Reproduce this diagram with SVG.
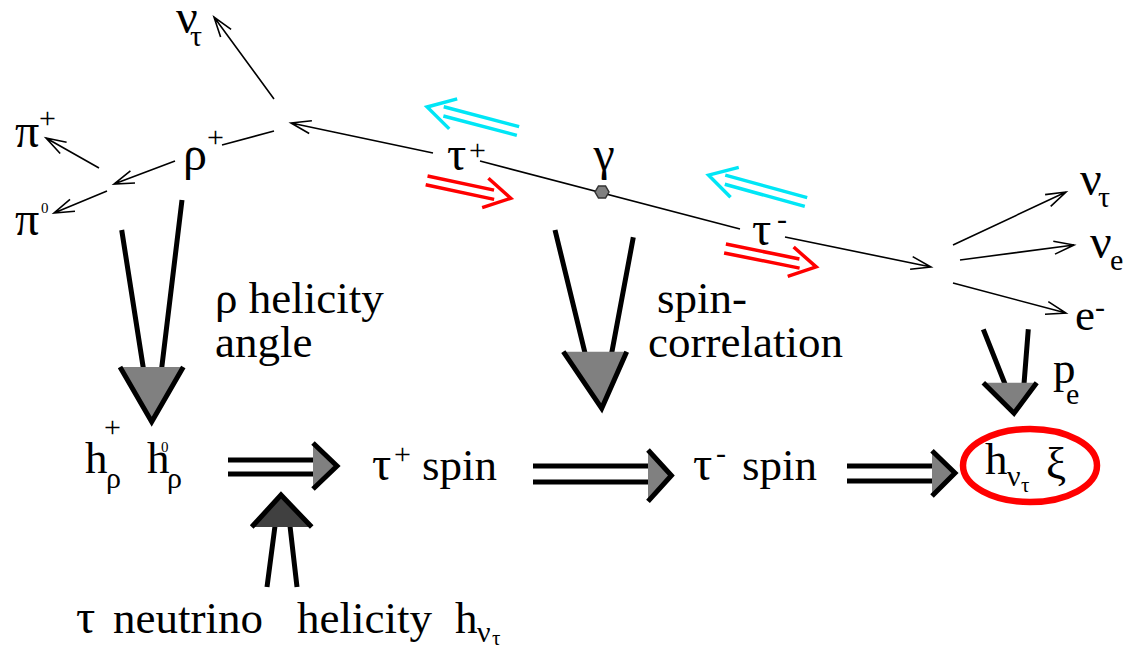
<svg xmlns="http://www.w3.org/2000/svg" width="1130" height="647" viewBox="0 0 1130 647">
<rect width="1130" height="647" fill="#fff"/>

<g id="connectors">
  <g id="thin-lines" stroke="#000" stroke-width="1.6" fill="none">
    <path d="M433,153 L291,123 M311.9,120.8 L291,123 L309.2,133.5"/>
    <path d="M480,161 L740,229"/>
    <path d="M785,237 L931,267 M910.1,269.3 L931,267 L912.7,256.6"/>
    <path d="M274,99 L214,17 M231.1,29.3 L214,17 L220.6,37"/>
    <path d="M274,131 L222,145"/>
    <path d="M175,161 L114,184 M130.4,170.9 L114,184 L135,183"/>
    <path d="M99,168 L46,138 M66.6,142.2 L46,138 L60.2,153.5"/>
    <path d="M107,191 L54,213 M70,199.3 L54,213 L75,211.3"/>
    <path d="M953,245 L1066,192 M1050.7,206.4 L1066,192 L1045.1,194.6"/>
    <path d="M960,260 L1074,245 M1055,254.1 L1074,245 L1053.3,241.2"/>
    <path d="M953,283 L1066,313 M1045,314.2 L1066,313 L1048.3,301.6"/>
  </g>
  <g id="spin-arrows" fill="none" stroke-width="3.5">
    <path stroke="#00e6f6" transform="translate(518,131) rotate(194.8)" d="M0,-4.5H76M0,4.5H78M67,-15.5L94,0L67,15.5"/>
    <path stroke="#ff0000" transform="translate(426.6,180.4) rotate(12)" d="M0,-4.5H68M0,4.5H70M60,-15L86,0L60,15"/>
    <path stroke="#00e6f6" transform="translate(806,202) rotate(195.4)" d="M0,-4.5H83M0,4.5H85M74,-15.5L101,0L74,15.5"/>
    <path stroke="#ff0000" transform="translate(725,248.5) rotate(11.4)" d="M0,-4.5H75M0,4.5H77M67,-15L93,0L67,15"/>
  </g>
  <g id="arrow-rho-helicity">
    <path stroke="#000" stroke-width="5" fill="none" d="M121.7,230 L143.3,368 M182,200 L161.7,368"/>
    <polygon fill="#808080" points="120,367 183.3,367 151.7,421.7"/>
    <path stroke="#000" stroke-width="5" fill="none" d="M120,367 L151.7,421.7 L183.3,367"/>
  </g>
  <g id="arrow-spin-correlation">
    <path stroke="#000" stroke-width="5" fill="none" d="M555,230 L585,353 M633.3,237.3 L611.7,353"/>
    <polygon fill="#808080" points="563.3,351.7 626.7,351.7 601.7,408.3"/>
    <path stroke="#000" stroke-width="5" fill="none" d="M563.3,351.7 L601.7,408.3 L626.7,351.7"/>
  </g>
  <g id="arrow-pe">
    <path stroke="#000" stroke-width="5" fill="none" d="M983.3,329.3 L1005,384 M1028.3,329.3 L1024,384"/>
    <polygon fill="#808080" points="983.3,382.7 1036.7,382.7 1014,413.3"/>
    <path stroke="#000" stroke-width="5" fill="none" d="M983.3,382.7 L1014,413.3 L1036.7,382.7"/>
  </g>
  <g id="arrow-neutrino-helicity">
    <path stroke="#000" stroke-width="5" fill="none" d="M267,587 L275,526 M297,587 L290,526"/>
    <polygon fill="#404040" points="251.7,527 311.7,527 281,495"/>
    <path stroke="#000" stroke-width="5" fill="none" d="M251.7,527 L281,495 L311.7,527"/>
  </g>
  <g id="implies-1">
    <path stroke="#000" stroke-width="5" fill="none" d="M228,460 H314 M228,474 H314"/>
    <polygon fill="#808080" points="313,443 337,466 313,489"/>
    <path stroke="#000" stroke-width="5" fill="none" d="M313,443 L337,466 L313,489"/>
  </g>
  <g id="implies-2">
    <path stroke="#000" stroke-width="5" fill="none" d="M533,466 H649 M533,482 H649"/>
    <polygon fill="#808080" points="648,450 671.4,475.5 648,501.4"/>
    <path stroke="#000" stroke-width="5" fill="none" d="M648,450 L671.4,475.5 L648,501.4"/>
  </g>
  <g id="implies-3">
    <path stroke="#000" stroke-width="5" fill="none" d="M847,466 H933 M847,481 H933"/>
    <polygon fill="#808080" points="932,450.7 955,473 932,496"/>
    <path stroke="#000" stroke-width="5" fill="none" d="M932,450.7 L955,473 L932,496"/>
  </g>
</g>

<g id="gamma-vertex" font-family="Liberation Serif">
  <polygon points="609,192 605.5,198.1 598.5,198.1 595,192 598.5,185.9 605.5,185.9" fill="#808080" stroke="#333" stroke-width="1.5"/>
  <text font-family="Liberation Serif" font-size="48" x="604" y="170" text-anchor="middle">γ</text>
</g>

<g id="label-nutau-left" font-family="Liberation Serif">
  <text font-family="Liberation Serif" font-size="48" x="176" y="33">ν</text>
  <text font-family="Liberation Serif" font-size="30" x="190" y="46">τ</text>
</g>
<g id="label-piplus" font-family="Liberation Serif">
  <text font-family="Liberation Serif" font-size="48" x="15" y="147">π</text>
  <text font-family="Liberation Serif" font-size="30" x="39" y="128">+</text>
</g>
<g id="label-pizero" font-family="Liberation Serif">
  <text font-family="Liberation Serif" font-size="48" x="15" y="235">π</text>
  <text font-family="Liberation Serif" font-size="15" x="41" y="213">0</text>
</g>
<g id="label-rhoplus" font-family="Liberation Serif">
  <text font-family="Liberation Serif" font-size="48" x="183" y="170">ρ</text>
  <text font-family="Liberation Serif" font-size="30" x="207" y="147">+</text>
</g>
<g id="label-tauplus" font-family="Liberation Serif">
  <text font-family="Liberation Serif" font-size="48" x="447" y="170">τ</text>
  <text font-family="Liberation Serif" font-size="30" x="469" y="160">+</text>
</g>
<g id="label-tauminus" font-family="Liberation Serif">
  <text font-family="Liberation Serif" font-size="48" x="752" y="245">τ</text>
  <text font-family="Liberation Serif" font-size="30" x="777" y="229">-</text>
</g>
<g id="label-nutau-right" font-family="Liberation Serif">
  <text font-family="Liberation Serif" font-size="48" x="1080" y="195">ν</text>
  <text font-family="Liberation Serif" font-size="30" x="1098" y="207">τ</text>
</g>
<g id="label-nue" font-family="Liberation Serif">
  <text font-family="Liberation Serif" font-size="48" x="1090" y="258">ν</text>
  <text font-family="Liberation Serif" font-size="30" x="1110" y="270">e</text>
</g>
<g id="label-electron" font-family="Liberation Serif">
  <text font-family="Liberation Serif" font-size="45" x="1075" y="330">e</text>
  <text font-family="Liberation Serif" font-size="30" x="1095" y="317">-</text>
</g>

<g id="label-rho-helicity-angle" font-family="Liberation Serif">
  <text font-family="Liberation Serif" font-size="45" x="215" y="313">ρ helicity</text>
  <text font-family="Liberation Serif" font-size="45" x="215" y="357">angle</text>
</g>
<g id="label-spin-correlation" font-family="Liberation Serif">
  <text font-family="Liberation Serif" font-size="45" x="657" y="313">spin-</text>
  <text font-family="Liberation Serif" font-size="45" x="648" y="357">correlation</text>
</g>
<g id="label-pe" font-family="Liberation Serif">
  <text font-family="Liberation Serif" font-size="45" x="1053" y="383">p</text>
  <text font-family="Liberation Serif" font-size="30" x="1066" y="404">e</text>
</g>

<g id="node-h-rho" font-family="Liberation Serif">
  <text font-family="Liberation Serif" font-size="45" x="85" y="473">h</text>
  <text font-family="Liberation Serif" font-size="30" x="104" y="437">+</text>
  <text font-family="Liberation Serif" font-size="30" x="106" y="488">ρ</text>
  <text font-family="Liberation Serif" font-size="45" x="147" y="473">h</text>
  <text font-family="Liberation Serif" font-size="15" x="161" y="452">0</text>
  <text font-family="Liberation Serif" font-size="30" x="167" y="488">ρ</text>
</g>
<g id="node-tauplus-spin" font-family="Liberation Serif">
  <text font-family="Liberation Serif" font-size="48" x="372" y="480">τ</text>
  <text font-family="Liberation Serif" font-size="30" x="394" y="464">+</text>
  <text font-family="Liberation Serif" font-size="45" x="422" y="480">spin</text>
</g>
<g id="node-tauminus-spin" font-family="Liberation Serif">
  <text font-family="Liberation Serif" font-size="48" x="693" y="480">τ</text>
  <text font-family="Liberation Serif" font-size="30" x="716" y="463">-</text>
  <text font-family="Liberation Serif" font-size="45" x="742" y="480">spin</text>
</g>
<g id="node-result" font-family="Liberation Serif">
  <ellipse cx="1030" cy="465.5" rx="67" ry="36.5" fill="none" stroke="#ff0000" stroke-width="6.5"/>
  <text font-family="Liberation Serif" font-size="45" x="985" y="474">h</text>
  <text font-family="Liberation Serif" font-size="30" x="1007" y="486">ν</text>
  <text font-family="Liberation Serif" font-size="21" x="1021" y="492">τ</text>
  <text font-family="Liberation Serif" font-size="45" x="1046" y="478">ξ</text>
</g>
<g id="label-neutrino-helicity" font-family="Liberation Serif">
  <text font-family="Liberation Serif" font-size="48" x="76" y="633">τ</text>
  <text font-family="Liberation Serif" font-size="45" x="113" y="633">neutrino</text>
  <text font-family="Liberation Serif" font-size="45" x="297" y="633">helicity</text>
  <text font-family="Liberation Serif" font-size="45" x="455" y="633">h</text>
  <text font-family="Liberation Serif" font-size="30" x="477" y="642">ν</text>
  <text font-family="Liberation Serif" font-size="21" x="492" y="645">τ</text>
</g>
</svg>
